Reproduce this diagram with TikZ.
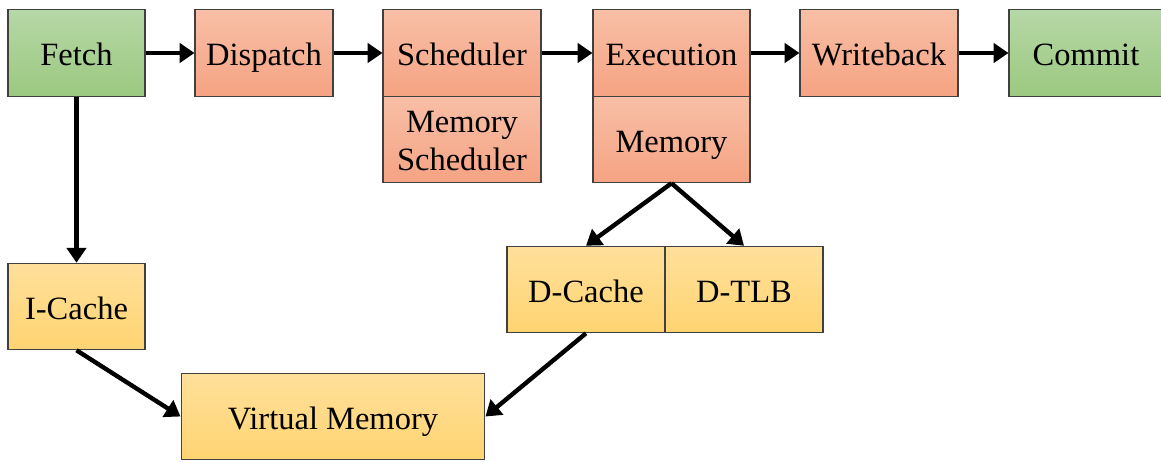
\documentclass[tikz,border=0pt]{standalone}
\usepackage{fontspec}
\setmainfont{Liberation Serif}
\usepackage{xcolor}
\usepackage{tikz}
\usetikzlibrary{arrows.meta}
\usetikzlibrary{positioning}

\definecolor{grntop}{RGB}{182,215,167}
\definecolor{grnbot}{RGB}{156,201,128}
\definecolor{orgtop}{RGB}{248,191,166}
\definecolor{orgbot}{RGB}{245,163,131}
\definecolor{ylwtop}{RGB}{255,224,155}
\definecolor{ylwbot}{RGB}{255,212,113}

\tikzset{
	stagebox/.style={
		draw=black!75, line width=0.6pt,
		minimum height=1.73cm, inner sep=0pt, align=center,
		text height=14.4pt, text depth=0pt,
		font=\fontsize{18.5pt}{21.5pt}\selectfont,
	},
	endstage/.style={stagebox, top color=grntop, bottom color=grnbot},
	pipestage/.style={stagebox, top color=orgtop, bottom color=orgbot},
	cachebox/.style={stagebox, top color=ylwtop, bottom color=ylwbot},
	flow/.style={
		line width=2.5pt, -{Triangle[length=8.5pt,width=11pt]},
	},
}

\begin{document}
\begin{tikzpicture}[x=0.02cm,y=-0.02cm]
			\useasboundingbox (0,0) rectangle (1161,462);
			
			% Pipeline
			\node[endstage, minimum width=2.74cm] (fetch) at (76.5,53) {Fetch};
			\node[pipestage, minimum width=2.76cm] (dispatch) at (264,53) {Dispatch};
			\node[pipestage, minimum width=3.16cm] (sched) at (462,53) {Scheduler};
			\node[pipestage, minimum width=3.16cm, text height=35pt] (memsched) at (462,139.5) {Memory\\Scheduler};
			\node[pipestage, minimum width=3.14cm] (exec) at (671.5,53) {Execution};
			\node[pipestage, minimum width=3.14cm] (mem) at (671.5,139.5) {Memory};
			\node[pipestage, minimum width=3.16cm] (wb) at (879,53) {Writeback};
			\node[endstage, minimum width=3.08cm] (commit) at (1086,53) {Commit};
			
			% Caches
			\node[cachebox, minimum width=2.74cm] (icache) at (76.5,306.5) {I-Cache};
			\node[cachebox, minimum width=3.16cm] (dcache) at (586,289.5) {D-Cache};
			\node[cachebox, minimum width=3.16cm] (dtlb) at (744,289.5) {D-TLB};
			\node[cachebox, minimum width=6.08cm] (vmem) at (333,416.5) {Virtual Memory};
			
			% Draw arrows along the pipeline
			\draw[flow] (fetch) -- (dispatch);
			\draw[flow] (dispatch) -- (sched);
			\draw[flow] (sched) -- (exec);
			\draw[flow] (exec) -- (wb);
			\draw[flow] (wb) -- (commit);
			
			% Draw arrows to the memory system
			\draw[flow] (fetch.south) -- (icache.north);
			\draw[flow] (mem.south) -- (dcache.north);
			\draw[flow] (mem.south) -- (dtlb.north);
			\draw[flow] (icache.south) -- (vmem.west);
			\draw[flow] (dcache.south) -- (vmem.east);
		\end{tikzpicture}
\end{document}
